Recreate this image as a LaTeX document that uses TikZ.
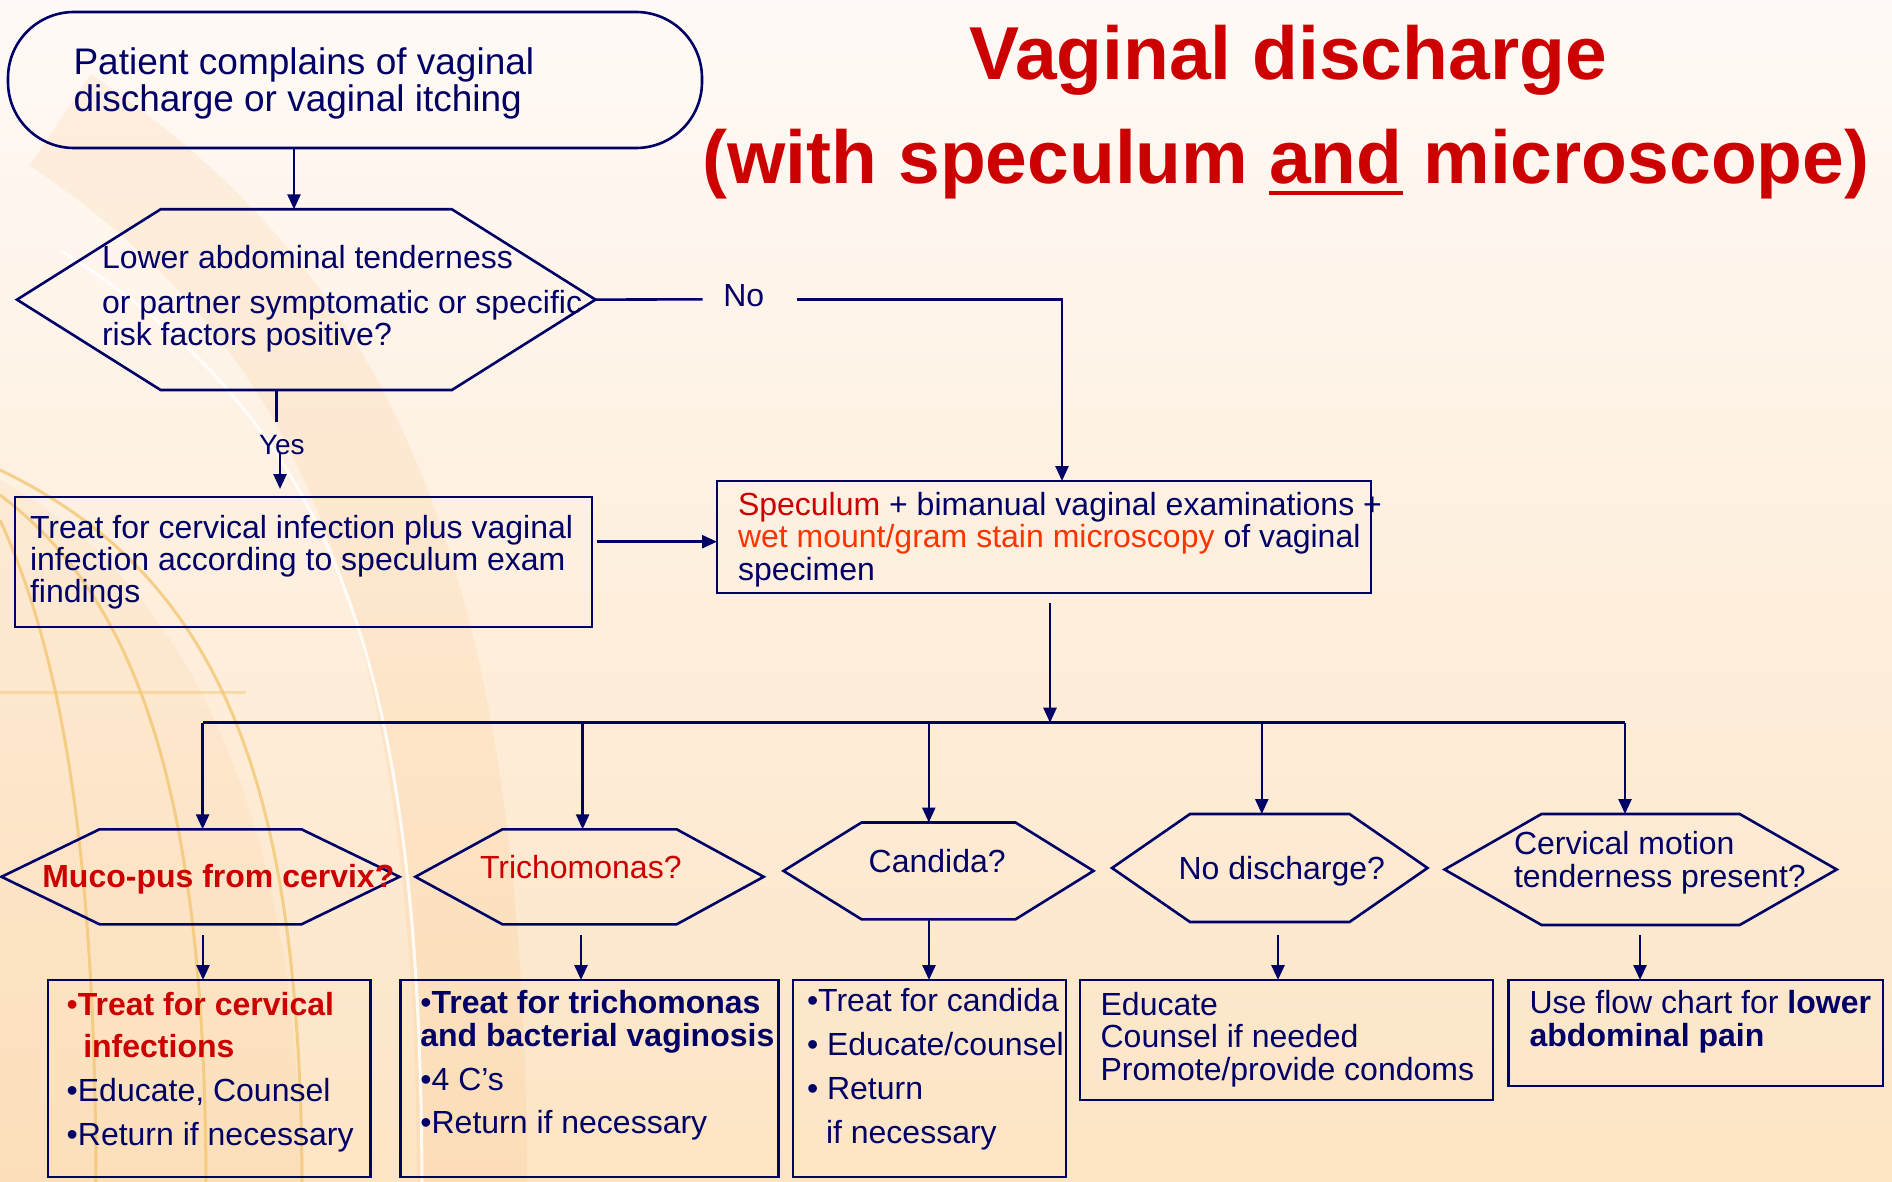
\documentclass[tikz,border=0pt]{standalone}
\usepackage{fontspec}
\setmainfont{Liberation Sans}
\usetikzlibrary{arrows.meta,calc}
\definecolor{nvy}{HTML}{000066}
\definecolor{rd}{HTML}{CC0000}
\definecolor{orng}{HTML}{FF3300}
\definecolor{bgT}{HTML}{FFFAF7}
\definecolor{bgM}{HTML}{FFF3E4}
\definecolor{bgB}{HTML}{FDE4C4}
\definecolor{gld}{HTML}{F2C56E}
\definecolor{deco}{HTML}{F7B76A}
\newcommand\ulx[1]{\setbox0\hbox{#1}\rlap{\rule[-11.4pt]{\wd0}{4pt}}\box0{}}
\newcommand\hexpath[2]{\draw[hxl] (#1.west) -- ([xshift=#2pt]#1.north west) -- ([xshift=-#2pt]#1.north east) -- (#1.east) -- ([xshift=-#2pt]#1.south east) -- ([xshift=#2pt]#1.south west) -- cycle;}
\begin{document}
\begin{tikzpicture}[x=1pt,y=-1pt,
  ln/.style={draw=nvy, line width=2.6pt},
  arr/.style={ln, -{Triangle[length=15pt,width=13pt]}},
  bx/.style={draw=nvy, line width=2.6pt, rectangle, inner sep=0pt, outer sep=0pt},
  hx/.style={rectangle, inner sep=0pt, outer sep=0pt},
  hxl/.style={draw=nvy, line width=2.6pt, line join=miter},
  tx/.style={inner sep=0pt, outer sep=0pt, anchor=base west, text=nvy, font=\fontsize{32}{32}\selectfont},
  ttl/.style={inner sep=0pt, anchor=base, text=rd, font=\fontsize{75}{75}\selectfont\bfseries}]
\useasboundingbox (0,0) rectangle (1892,1182);
% background
\shade[top color=bgT, middle color=bgM, bottom color=bgB] (0,0) rectangle (1892,1182);
\begin{scope}
  \clip (0,0) rectangle (760,1182);
  \draw[deco, line width=110pt, opacity=0.14] (60,120) .. controls (330,300) and (470,560) .. (472,1182);
  \fill[deco, opacity=0.10] (0,480) .. controls (150,560) and (300,760) .. (300,1182) -- (0,1182) -- cycle;
  \draw[gld, line width=3pt, opacity=0.75] (0,520) .. controls (55,640) and (95,820) .. (96,1182);
  \draw[gld, line width=3pt, opacity=0.75] (0,495) .. controls (140,600) and (205,800) .. (206,1182);
  \draw[gld, line width=3pt, opacity=0.75] (0,470) .. controls (230,580) and (300,800) .. (302,1182);
  \draw[white, line width=3pt, opacity=0.85] (60,250) .. controls (330,420) and (420,650) .. (422,1182);
  \draw[gld, line width=3pt, opacity=0.45] (0,692) -- (246,692);
\end{scope}
% title
\node[ttl] (t1) at (1288,80) {Vaginal discharge};
\node[ttl] (t2) at (1286,183.3) {(with speculum \ulx{and} microscope)};
% top part
\node[bx, rounded corners=66pt, minimum width=694pt, minimum height=136pt] (term) at (355,80) {};
\node[tx, font=\fontsize{37}{37}\selectfont] (termT) at (73.5,75) {\parbox[t]{600pt}{\leavevmode Patient complains of vaginal\\discharge or vaginal itching}};
\node[hx, minimum width=578.5pt, minimum height=180.7pt] (h1) at (306.25,299.65) {};
\hexpath{h1}{143.6}
\node[tx] (h1T) at (102,268.3) {\parbox[t]{600pt}{\leavevmode Lower abdominal tenderness\\[13pt]or partner symptomatic or specific\\risk factors positive?}};
\node[bx, minimum width=577pt, minimum height=130pt] (treat) at (303.5,562) {};
\node[tx] (treatT) at (30,538) {\parbox[t]{600pt}{\leavevmode Treat for cervical infection plus vaginal\\infection according to speculum exam\\findings}};
\node[bx, minimum width=654pt, minimum height=112pt] (spec) at (1044,537) {};
\node[tx, font=\fontsize{32}{32.5}\selectfont] (specT) at (738,515) {\parbox[t]{700pt}{\leavevmode{\color{rd}Speculum} + bimanual vaginal examinations +\\{\color{orng}wet mount/gram stain microscopy} of vaginal\\specimen}};
\node[tx, font=\fontsize{28}{28}\selectfont] (yes) at (259,454) {Yes};
\node[tx] (no) at (723.3,306) {No};
% connector coordinates
\coordinate (a1) at (294,0);
\coordinate (yl1) at (276.7,421.7);
\coordinate (yl2) at (280,451.7);
\coordinate (a3) at (0,541.7);
\coordinate (noL) at (702.7,299.3);
\coordinate (noR) at (797.3,299.3);
\coordinate (a2) at (1062,0);
\coordinate (d0) at (1050,722.7);
\coordinate (d1) at (202.6,722.7);
\coordinate (d2) at (582.6,722.7);
\coordinate (d3) at (928.8,722.7);
\coordinate (d4) at (1261.8,722.7);
\coordinate (d5) at (1625,722.7);
\coordinate (e1) at (203,0);
\coordinate (e2) at (581,0);
\coordinate (e3) at (929,0);
\coordinate (e4) at (1278,0);
\coordinate (e5) at (1640,0);
% top connectors
\draw[arr] (term.south -| a1) -- (h1.north -| a1);
\draw[ln] (h1.south -| yl1) -- (yl1);
\draw[arr, shorten >=8pt] (yl2) -- (treat.north -| yl2);
\draw[arr] (treat.east |- a3) ++(5,0) -- (spec.west |- a3);
\draw[ln] (h1.east) -- (noL);
\draw[arr] (noR) -| (spec.north -| a2);
\draw[arr, shorten <=10pt] (spec.south -| d0) -- (d0);
\draw[ln] (d1) -- (d5);
% hexagons
\node[hx, minimum width=398pt, minimum height=95pt] (hm) at (200.5,876.8) {};
\hexpath{hm}{98}
\node[tx, text=rd, font=\fontsize{32}{32}\selectfont\bfseries] (hmT) at (42.3,887.3) {Muco-pus from cervix?};
\node[hx, minimum width=348.3pt, minimum height=95pt] (ht) at (589.55,876.8) {};
\hexpath{ht}{87}
\node[tx, text=rd] (htT) at (480,878) {Trichomonas?};
\node[hx, minimum width=310pt, minimum height=96.8pt] (hc) at (938.5,870.9) {};
\hexpath{hc}{78}
\node[tx] (hcT) at (868.7,872.7) {Candida?};
\node[hx, minimum width=315.5pt, minimum height=108pt] (hn) at (1269.75,868) {};
\hexpath{hn}{78}
\node[tx] (hnT) at (1178.6,879) {No discharge?};
\node[hx, minimum width=392.2pt, minimum height=111pt] (hv) at (1640.6,869.5) {};
\hexpath{hv}{97}
\node[tx, font=\fontsize{32}{33.7}\selectfont] (hvT) at (1514,854) {\parbox[t]{400pt}{\leavevmode Cervical motion\\tenderness present?}};
% drops
\draw[arr] (d1) -- (hm.north -| d1);
\draw[arr] (d2) -- (ht.north -| d2);
\draw[arr] (d3) -- (hc.north -| d3);
\draw[arr] (d4) -- (hn.north -| d4);
\draw[arr] (d5) -- (hv.north -| d5);
% lower boxes
\node[bx, minimum width=322.6pt, minimum height=197pt] (bA) at (209.3,1078.5) {};
\node[bx, minimum width=378.1pt, minimum height=197pt] (bB) at (589.55,1078.5) {};
\node[bx, minimum width=273pt, minimum height=197pt] (bC) at (929.3,1078.5) {};
\node[bx, minimum width=412.8pt, minimum height=120pt] (bD) at (1286.4,1040) {};
\node[bx, minimum width=374.4pt, minimum height=106pt] (bE) at (1695.6,1033) {};
\draw[arr, shorten <=10.7pt] (hm.south -| e1) -- (bA.north -| e1);
\draw[arr, shorten <=10.7pt] (ht.south -| e2) -- (bB.north -| e2);
\draw[arr] (hc.south -| e3) -- (bC.north -| e3);
\draw[arr, shorten <=13pt] (hn.south -| e4) -- (bD.north -| e4);
\draw[arr, shorten <=10pt] (hv.south -| e5) -- (bE.north -| e5);
% box texts
\node[tx, font=\fontsize{32}{44}\selectfont] (bAT) at (66.7,1015) {\parbox[t]{400pt}{\leavevmode{\color{rd}•\textbf{Treat for cervical}}\\[-2pt]\hspace*{16.6pt}{\color{rd}\textbf{infections}}\\•Educate, Counsel\\•Return if necessary}};
\node[tx, font=\fontsize{32}{44}\selectfont] (bBT) at (420.4,1013) {\parbox[t]{500pt}{\leavevmode•\textbf{Treat for trichomonas}\\[-10.3pt]\textbf{and bacterial vaginosis}\\•4 C’s\\[-1pt]•Return if necessary}};
\node[tx, font=\fontsize{32}{44}\selectfont] (bCT) at (807,1011.7) {\parbox[t]{400pt}{\leavevmode•Treat for candida\\• Educate/counsel\\• Return\\\hspace*{19pt}if necessary}};
\node[tx, font=\fontsize{32}{32.5}\selectfont] (bDT) at (1100.6,1015) {\parbox[t]{500pt}{\leavevmode Educate\\Counsel if needed\\Promote/provide condoms}};
\node[tx, font=\fontsize{32}{33.7}\selectfont] (bET) at (1529.6,1013) {\parbox[t]{500pt}{\leavevmode Use flow chart for \textbf{lower}\\\textbf{abdominal pain}}};
\end{tikzpicture}
\end{document}
